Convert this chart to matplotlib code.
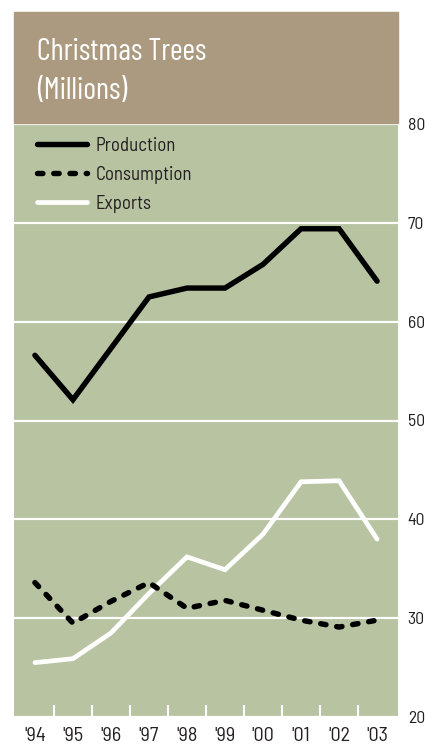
import matplotlib
matplotlib.use("Agg")
import matplotlib.pyplot as plt
from matplotlib.patches import Rectangle

plt.rcParams['font.family'] = ['Barlow Semi Condensed', 'DejaVu Sans']

# data (millions of trees)
years = ["'94", "'95", "'96", "'97", "'98", "'99", "'00", "'01", "'02", "'03"]
production = [56.6, 52.1, 57.3, 62.5, 63.4, 63.4, 65.8, 69.4, 69.4, 64.1]
consumption = [33.6, 29.5, 31.7, 33.6, 31.0, 31.8, 30.8, 29.8, 29.1, 29.8]
exports = [25.5, 25.9, 28.5, 32.5, 36.2, 34.9, 38.5, 43.8, 43.9, 38.0]
y_ticks = [20, 30, 40, 50, 60, 70, 80]

BROWN = "#ab9a7f"
GREEN = "#b7c3a1"
TEXT = "#231f20"

W, H = 429, 747
fig = plt.figure(figsize=(W / 100, H / 100), dpi=100)

# title box
fig.patches.append(Rectangle((14 / W, 1 - 123 / H), 384 / W, 111 / H,
                             transform=fig.transFigure, color=BROWN, zorder=0))
fig.text(37 / W, 1 - 59.5 / H, "Christmas Trees", color="white", family="Barlow Condensed",
         fontsize=22, va="baseline", ha="left")
fig.text(37 / W, 1 - 99.5 / H, "(Millions)", color="white", family="Barlow Condensed",
         fontsize=22, va="baseline", ha="left")

ax = fig.add_axes([14 / W, 1 - 717 / H, 384 / W, 593 / H])
ax.set_facecolor(GREEN)
for s in ax.spines.values():
    s.set_visible(False)

x = list(range(len(years)))
l_exp, = ax.plot(x, exports, color="white", lw=3.4, solid_capstyle="round",
                 solid_joinstyle="miter", label="Exports", zorder=3)
l_con, = ax.plot(x, consumption, color="black", lw=3.9, linestyle=(0, (1.0, 2.0)),
                 dash_capstyle="round", label="Consumption", zorder=4)
l_pro, = ax.plot(x, production, color="black", lw=3.9, solid_capstyle="round",
                 solid_joinstyle="miter", label="Production", zorder=5)

ax.set_xlim(-0.55, 9.55)
ax.set_ylim(20, 80)

ax.set_yticks(y_ticks)
ax.yaxis.tick_right()
ax.tick_params(axis="y", length=0, pad=7, labelsize=12.7, labelcolor=TEXT)
ax.grid(axis="y", color="white", lw=1.6)
ax.set_axisbelow(True)

ax.set_xticks(x)
ax.set_xticklabels(years)
ax.set_xticks([i + 0.5 for i in x[:-1]], minor=True)
ax.tick_params(axis="x", which="major", length=0, pad=7, labelsize=14.5, labelcolor=TEXT)
ax.tick_params(axis="x", which="minor", direction="in", length=9, width=1.5, color="white")

leg = ax.legend(handles=[l_pro, l_con, l_exp], loc="upper left", frameon=False,
                bbox_to_anchor=(23 / 384, 1 - 13 / 593), handlelength=2.65, handletextpad=0.47,
                labelspacing=0.58, fontsize=13.5, borderaxespad=0, borderpad=0)
for t in leg.get_texts():
    t.set_color(TEXT)

fig.savefig("out.png", dpi=100)
